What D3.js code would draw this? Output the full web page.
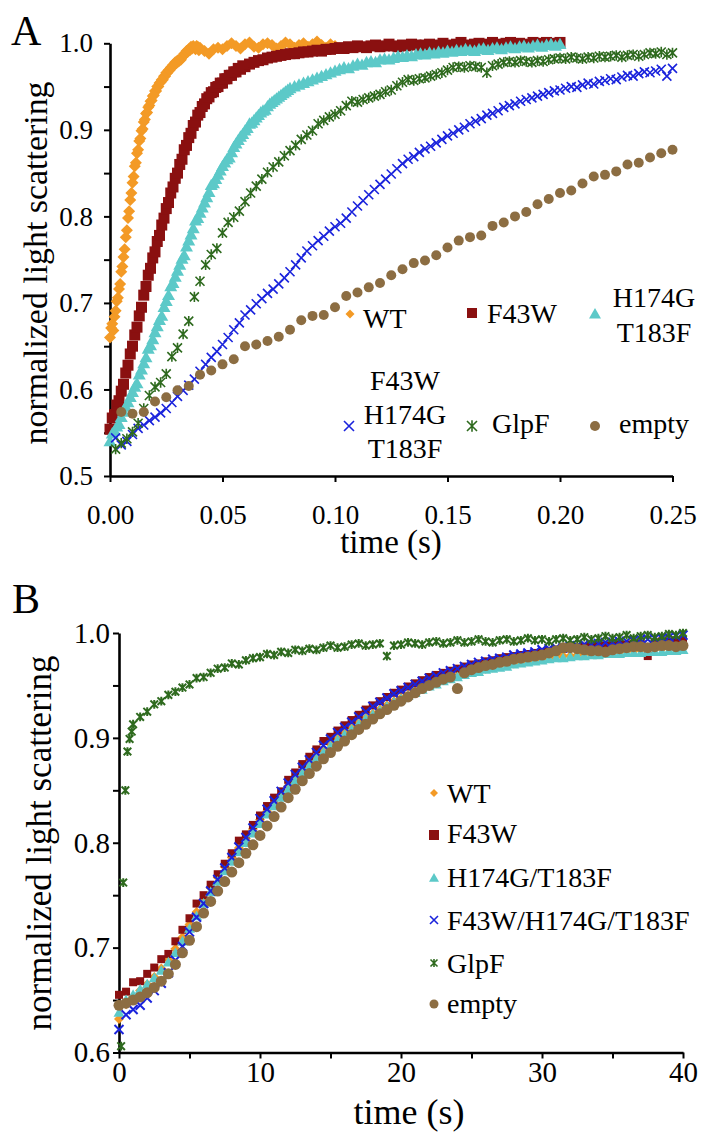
<!DOCTYPE html>
<html lang="en">
<head>
  <meta charset="UTF-8">
  <title>Normalized light scattering</title>
  <script src="https://d3js.org/d3.v7.min.js"></script>
  <style>
    body { margin: 0; background: #fff; }
  </style>
</head>
<body>
  <div id="chart"></div>
  <script>
    // ---------- data ----------
    const seriesNames = ["WT", "F43W", "H174G/T183F", "F43W/H174G/T183F", "GlpF", "empty"];
    const seriesColors = ["#F39A26", "#8A1010", "#5CC9C8", "#1A23DC", "#2E6A1E", "#8C6D42"];
    const seriesSymbols = ["diamond", "square", "triangle", "cross", "star", "circle"];

    // panel A (time in s)
    const wtA1 = [0.660,0.671,0.676,0.668,0.684,0.691,0.702,0.706,0.716,0.722,
      0.736,0.742,0.753,0.762,0.776,0.784,0.798,0.806,0.819,0.827,
      0.839,0.846,0.858,0.862,0.873,0.877,0.887,0.890,0.899,0.901,
      0.909,0.912,0.919,0.920,0.926,0.928,0.933,0.934,0.939,0.940,
      0.945,0.945,0.950,0.950,0.954,0.955,0.958,0.958,0.962,0.962,
      0.966,0.966,0.969,0.969,0.972,0.972,0.975,0.975,0.978,0.977,
      0.980,0.979,0.982,0.981,0.984,0.985,0.988,0.988,0.991,0.990,
      0.993,0.992,0.996,0.994,0.997,0.995,0.993,0.997,0.996,0.992,
      0.995];
    const wtA2 = [0.991,0.988,0.993,0.995,0.993,0.997,1.000,0.997,0.994,0.999,
      1.001,0.996,0.995,0.999,1.000,0.998,0.994,0.997,1.001,0.999,
      0.995,0.998,1.000,0.996,0.999,1.002,0.998,0.995,0.999,0.997];

    const f43wA1 = [0.554,0.567,0.571,0.582,0.587,0.598,0.606,0.619,0.628,0.641,
      0.650,0.663,0.672,0.685,0.695,0.709,0.719,0.732,0.740,0.752,
      0.759,0.771,0.778,0.790,0.798,0.809,0.816,0.827,0.834,0.844,
      0.850,0.860,0.866,0.877,0.882,0.891,0.896,0.905,0.909,0.917,
      0.920,0.927,0.930,0.936,0.938,0.943,0.944,0.949,0.950,0.954,
      0.954,0.959,0.959,0.963,0.963,0.967,0.967,0.971,0.970,0.974,
      0.973];
    const f43wA2 = [0.976,0.978,0.980,0.981,0.983,0.984,0.985,0.986,0.987,0.988,
      0.988,0.989,0.990,0.990,0.991,0.992,0.991,0.993,0.993,0.994,
      0.995,0.994,0.996,0.995,0.997,0.996,0.995,0.997,0.998,0.996,
      0.997,0.999,0.997,0.996,0.998,0.997,0.999,0.998,0.996,0.998,
      0.999,0.997,0.998,1.000,0.998,0.997,0.999,1.001,0.998,0.997,
      0.999,1.000,0.998,0.999,1.001,0.999,0.998,1.000,1.001,0.999,
      1.000,0.998,0.999,1.001,1.000,0.999,1.001,1.000,0.999,1.001];

    const dblA1 = [0.540,0.549,0.552,0.557,0.560,0.568,0.574,0.580,0.585,0.591,
      0.597,0.603,0.607,0.617,0.623,0.630,0.637,0.647,0.651,0.658,
      0.666,0.673,0.680,0.685,0.695,0.702,0.709,0.719,0.723,0.730,
      0.737,0.744,0.751,0.755,0.765,0.772,0.779,0.786,0.795,0.798,
      0.804,0.810,0.816,0.822,0.828,0.836,0.838,0.843,0.848,0.853,
      0.858,0.862,0.866,0.868,0.874,0.880,0.884,0.888,0.892,0.895,
      0.899,0.902,0.907,0.908,0.911,0.914,0.917,0.920,0.922,0.923,
      0.927,0.930,0.932,0.934,0.936,0.938,0.940,0.942,0.944,0.946,
      0.948];
    const dblA2 = [0.950,0.952,0.954,0.956,0.958,0.960,0.962,0.964,0.966,0.968,
      0.970,0.972,0.971,0.974,0.976,0.975,0.978,0.979,0.978,0.981,
      0.982,0.981,0.983,0.985,0.984,0.986,0.985,0.987,0.988,0.987,
      0.989,0.988,0.990,0.989,0.991,0.990,0.992,0.991,0.993,0.992,
      0.991,0.993,0.994,0.992,0.994,0.995,0.993,0.995,0.996,0.994,
      0.996,0.997,0.995,0.997,0.998,0.996,0.998,0.999,0.997,0.999];

    const tripleA = [0.544,0.536,0.540,0.548,0.555,0.559,0.564,0.568,0.573,0.578,
      0.585,0.592,0.599,0.605,0.612,0.621,0.629,0.637,0.644,0.652,
      0.660,0.669,0.677,0.686,0.692,0.699,0.705,0.711,0.716,0.722,
      0.729,0.736,0.744,0.752,0.760,0.766,0.772,0.777,0.783,0.788,
      0.792,0.798,0.805,0.812,0.818,0.825,0.831,0.837,0.843,0.849,
      0.855,0.861,0.866,0.869,0.874,0.878,0.881,0.885,0.889,0.893,
      0.896,0.900,0.903,0.907,0.910,0.913,0.917,0.919,0.922,0.926,
      0.928,0.930,0.933,0.935,0.937,0.939,0.941,0.943,0.945,0.946,
      0.948,0.950,0.949,0.952,0.954,0.953,0.956,0.957,0.959,0.958,
      0.961,0.963,0.962,0.965,0.967,0.966,0.968,0.970,0.962,0.971];

    const glpfA = [0.531,0.538,0.543,0.551,0.561,0.578,0.593,0.603,0.608,0.618,
      0.638,0.648,0.664,0.679,0.707,0.725,0.744,0.756,0.763,0.781,
      0.793,0.799,0.806,0.817,0.827,0.835,0.843,0.851,0.857,0.863,
      0.870,0.876,0.882,0.889,0.894,0.899,0.907,0.911,0.915,0.918,
      0.922,0.928,0.933,0.932,0.935,0.937,0.939,0.941,0.944,0.946,
      0.951,0.955,0.958,0.957,0.959,0.960,0.962,0.964,0.966,0.969,
      0.972,0.973,0.972,0.974,0.973,0.972,0.966,0.974,0.976,0.978,
      0.979,0.978,0.980,0.979,0.978,0.980,0.979,0.981,0.982,0.983,
      0.982,0.984,0.983,0.982,0.984,0.983,0.985,0.984,0.985,0.986,
      0.984,0.986,0.987,0.985,0.987,0.989,0.988,0.990,0.987,0.989];

    const emptyA = [0.574,0.572,0.574,0.586,0.591,0.599,0.604,0.617,0.622,0.629,
      0.635,0.650,0.652,0.656,0.661,0.669,0.680,0.685,0.686,0.695,
      0.708,0.712,0.718,0.723,0.732,0.739,0.746,0.749,0.755,0.764,
      0.772,0.776,0.778,0.789,0.793,0.800,0.805,0.814,0.820,0.827,
      0.830,0.838,0.846,0.848,0.852,0.860,0.862,0.868,0.873,0.877];

    // panel B (time in s, one reading every 0.5 s)
    const wtB = [0.632,0.646,0.653,0.659,0.665,0.672,0.680,0.689,0.699,0.710,
      0.722,0.734,0.746,0.757,0.767,0.777,0.786,0.795,0.804,0.813,
      0.822,0.830,0.838,0.846,0.854,0.861,0.868,0.875,0.882,0.888,
      0.894,0.900,0.905,0.910,0.915,0.919,0.923,0.927,0.931,0.935,
      0.938,0.941,0.944,0.947,0.950,0.952,0.955,0.957,0.959,0.961,
      0.963,0.964,0.966,0.967,0.969,0.970,0.971,0.972,0.973,0.974,
      0.975,0.976,0.977,0.978,0.978,0.979,0.980,0.980,0.981,0.981,
      0.982,0.982,0.983,0.983,0.984,0.984,0.985,0.985,0.986,0.986,
      0.987];
    const f43wB = [0.655,0.658,0.667,0.668,0.675,0.681,0.689,0.694,0.706,0.717,
      0.728,0.742,0.750,0.760,0.770,0.780,0.790,0.802,0.808,0.817,
      0.826,0.835,0.843,0.849,0.860,0.867,0.875,0.882,0.889,0.897,
      0.901,0.907,0.912,0.917,0.922,0.927,0.931,0.935,0.939,0.943,
      0.946,0.949,0.952,0.955,0.958,0.960,0.962,0.964,0.966,0.968,
      0.970,0.971,0.973,0.974,0.976,0.977,0.978,0.979,0.980,0.981,
      0.982,0.983,0.984,0.985,0.986,0.986,0.987,0.987,0.988,0.988,
      0.988,0.989,0.989,0.990,0.990,0.978,0.991,0.992,0.992,0.993,
      0.993];
    const dblB = [0.638,0.650,0.655,0.660,0.665,0.671,0.678,0.686,0.695,0.706,
      0.718,0.730,0.742,0.753,0.763,0.773,0.782,0.791,0.800,0.809,
      0.818,0.827,0.835,0.843,0.851,0.859,0.866,0.873,0.880,0.886,
      0.892,0.898,0.903,0.908,0.913,0.918,0.922,0.926,0.930,0.934,
      0.937,0.940,0.943,0.946,0.949,0.951,0.954,0.956,0.958,0.960,
      0.962,0.963,0.965,0.966,0.967,0.968,0.970,0.971,0.972,0.973,
      0.974,0.975,0.976,0.976,0.977,0.978,0.978,0.979,0.979,0.980,
      0.980,0.980,0.981,0.981,0.981,0.982,0.982,0.982,0.983,0.983,
      0.984];
    const tripleB = [0.622,0.636,0.641,0.645,0.652,0.659,0.666,0.676,0.688,0.701,
      0.715,0.729,0.742,0.754,0.765,0.776,0.786,0.796,0.805,0.814,
      0.823,0.832,0.840,0.849,0.857,0.865,0.872,0.879,0.886,0.893,
      0.899,0.905,0.910,0.915,0.920,0.925,0.930,0.934,0.938,0.942,
      0.945,0.948,0.951,0.954,0.957,0.959,0.962,0.964,0.966,0.968,
      0.970,0.972,0.973,0.975,0.976,0.977,0.979,0.980,0.981,0.982,
      0.984,0.985,0.986,0.986,0.987,0.988,0.989,0.989,0.990,0.991,
      0.991,0.992,0.992,0.993,0.994,0.994,0.995,0.995,0.996,0.997,
      0.998];
    const glpfB1 = [0.606,0.762,0.850,0.887,0.899,0.906];  // first fast readings
    const glpfB2 = [0.913,0.920,0.925,0.932,0.935,0.941,0.944,0.948,0.951,0.957,
      0.958,0.962,0.966,0.967,0.971,0.970,0.974,0.976,0.977,0.980,
      0.979,0.982,0.981,0.984,0.983,0.985,0.984,0.986,0.988,0.986,
      0.987,0.989,0.990,0.988,0.989,0.990,0.978,0.988,0.989,0.991,
      0.990,0.989,0.991,0.992,0.990,0.991,0.993,0.991,0.992,0.994,
      0.992,0.991,0.993,0.994,0.992,0.993,0.995,0.993,0.994,0.992,
      0.994,0.995,0.993,0.994,0.996,0.994,0.995,0.997,0.995,0.996,
      0.998,0.995,0.997,0.998,0.996,0.997,0.999,0.998,1.000];
    const emptyB = [0.645,0.647,0.650,0.653,0.657,0.662,0.668,0.675,0.684,0.695,
      0.707,0.720,0.733,0.744,0.754,0.763,0.772,0.781,0.790,0.798,
      0.807,0.816,0.825,0.834,0.843,0.851,0.859,0.866,0.873,0.880,
      0.886,0.892,0.897,0.903,0.908,0.913,0.918,0.923,0.927,0.931,
      0.935,0.939,0.943,0.947,0.950,0.953,0.956,0.958,0.947,0.962,
      0.965,0.967,0.969,0.970,0.972,0.973,0.975,0.976,0.977,0.978,
      0.979,0.981,0.983,0.986,0.986,0.985,0.984,0.983,0.983,0.982,
      0.984,0.985,0.986,0.987,0.987,0.986,0.987,0.988,0.988,0.987,
      0.988];

    // sampling: start time and step for each block of readings
    const panelAData = [
      [{ t0: 0, dt: 0.0005, y: wtA1 }, { t0: 0.042, dt: 0.002, y: wtA2 }],
      [{ t0: 0, dt: 0.001, y: f43wA1 }, { t0: 0.062, dt: 0.002, y: f43wA2 }],
      [{ t0: 0, dt: 0.001, y: dblA1 }, { t0: 0.082, dt: 0.002, y: dblA2 }],
      [{ t0: 0.0025, dt: 0.0025, y: tripleA }],
      [{ t0: 0.0025, dt: 0.0025, y: glpfA }],
      [{ t0: 0.005, dt: 0.005, y: emptyA }]
    ];
    const panelBData = [
      [{ t0: 0, dt: 0.5, y: wtB }],
      [{ t0: 0, dt: 0.5, y: f43wB }],
      [{ t0: 0, dt: 0.5, y: dblB }],
      [{ t0: 0, dt: 0.5, y: tripleB }],
      [{ t0: 0.15, dt: 0.15, y: glpfB1 }, { t0: 1, dt: 0.5, y: glpfB2 }],
      [{ t0: 0, dt: 0.5, y: emptyB }]
    ];

    const xTicksA = [0, 0.05, 0.10, 0.15, 0.20, 0.25];
    const xTickLabelsA = ["0.00", "0.05", "0.10", "0.15", "0.20", "0.25"];
    const yTicksA = [0.5, 0.55, 0.6, 0.65, 0.7, 0.75, 0.8, 0.85, 0.9, 0.95, 1.0];
    const yTickLabelsA = ["0.5", "", "0.6", "", "0.7", "", "0.8", "", "0.9", "", "1.0"];
    const xTicksB = [0, 5, 10, 15, 20, 25, 30, 35, 40];
    const xTickLabelsB = ["0", "", "10", "", "20", "", "30", "", "40"];
    const yTicksB = [0.6, 0.65, 0.7, 0.75, 0.8, 0.85, 0.9, 0.95, 1.0];
    const yTickLabelsB = ["0.6", "", "0.7", "", "0.8", "", "0.9", "", "1.0"];

    // ---------- font: first serif face that is really installed ----------
    function hasFont(name) {
      const ctx = document.createElement("canvas").getContext("2d");
      const probe = "mmmmmwwwlli0.05WTQ";
      return ["monospace", "sans-serif", "serif"].some(base => {
        ctx.font = `40px ${base}`;
        const w0 = ctx.measureText(probe).width;
        ctx.font = `40px "${name}", ${base}`;
        return ctx.measureText(probe).width !== w0;
      });
    }
    const fontChoices = ["Liberation Serif", "Times New Roman", "Tinos", "Nimbus Roman", "FreeSerif", "DejaVu Serif", "Noto Serif"];
    const serifFont = fontChoices.find(hasFont);
    const FONT = serifFont ? `"${serifFont}", serif` : "serif";

    // ---------- drawing ----------
    const svg = d3.select("#chart").append("svg")
      .attr("width", 704)
      .attr("height", 1133)
      .attr("font-family", FONT);

    const symbolTypes = {
      diamond: { draw(c, r) { c.moveTo(0, -r); c.lineTo(r, 0); c.lineTo(0, r); c.lineTo(-r, 0); c.closePath(); } },
      square: { draw(c, r) { c.rect(-r, -r, 2 * r, 2 * r); } },
      triangle: { draw(c, r) { c.moveTo(0, -r); c.lineTo(r, r * 0.75); c.lineTo(-r, r * 0.75); c.closePath(); } },
      cross: { draw(c, r) { c.moveTo(-r, -r); c.lineTo(r, r); c.moveTo(r, -r); c.lineTo(-r, r); } },
      star: { draw(c, r) { c.moveTo(-r, -r); c.lineTo(r, r); c.moveTo(r, -r); c.lineTo(-r, r); c.moveTo(0, -r * 1.15); c.lineTo(0, r * 1.15); } },
      circle: { draw(c, r) { c.moveTo(r, 0); c.arc(0, 0, r, 0, 2 * Math.PI); } }
    };
    const isStroked = s => s === "cross" || s === "star";

    function marker(sel, i, r, sw) {
      const s = seriesSymbols[i];
      sel.attr("d", d3.symbol(symbolTypes[s], r))
        .attr("fill", isStroked(s) ? "none" : seriesColors[i])
        .attr("stroke", isStroked(s) ? seriesColors[i] : "none")
        .attr("stroke-width", isStroked(s) ? (sw || 1.6) : 0);
    }

    function addText(g, x, y, str, size, anchor) {
      return g.append("text")
        .attr("x", x).attr("y", y)
        .attr("font-family", FONT)
        .attr("font-size", size)
        .attr("fill", "#000")
        .attr("text-anchor", anchor || "start")
        .text(str);
    }

    function drawPanel(p) {
      const g = svg.append("g");
      const x = d3.scaleLinear().domain(p.xDomain).range(p.xRange);
      const y = d3.scaleLinear().domain(p.yDomain).range(p.yRange);

      // axes
      const xAxis = g.append("g")
        .attr("transform", `translate(0,${p.yRange[0]})`)
        .call(d3.axisBottom(x).tickValues(p.xTicks).tickFormat((d, i) => p.xLabels[i])
          .tickSize(6).tickSizeOuter(0));
      xAxis.selectAll("text").attr("y", p.xLabelY).attr("dy", null);

      const yAxis = g.append("g")
        .attr("transform", `translate(${p.xRange[0]},0)`)
        .call(d3.axisLeft(y).tickValues(p.yTicks).tickFormat((d, i) => p.yLabels[i])
          .tickSize(6).tickPadding(p.yPad).tickSizeOuter(0));

      [xAxis, yAxis].forEach(a => {
        a.attr("font-family", FONT).attr("font-size", p.tickFont);
        a.selectAll("text").attr("fill", "#000");
        a.select(".domain").attr("stroke", "#000").attr("stroke-width", 2.6);
        a.selectAll(".tick line").attr("stroke", "#000").attr("stroke-width", 2);
      });

      // series, drawn in legend order so later ones sit on top
      p.data.forEach((segs, i) => {
        const pts = segs.flatMap(seg => seg.y.map((v, k) => ({ t: seg.t0 + k * seg.dt, v })));
        g.append("g").selectAll("path")
          .data(pts)
          .join("path")
          .attr("transform", d => `translate(${x(d.t)},${y(d.v)})`)
          .call(marker, i, p.sizes[i], p.strokeW);
      });

      // titles
      addText(g, p.xTitle[0], p.xTitle[1], "time (s)", p.xTitleFont, "middle");
      addText(g, 0, 0, "normalized light scattering", p.yTitleFont, "middle")
        .attr("transform", `translate(${p.yTitle[0]},${p.yTitle[1]}) rotate(-90)`)
        .attr("textLength", p.yTitleLength)
        .attr("lengthAdjust", "spacingAndGlyphs");
      addText(g, p.letter[0], p.letter[1], p.name, 42);

      // legend
      p.legend.forEach(e => {
        g.append("path")
          .attr("transform", `translate(${e.mx},${e.my})`)
          .call(marker, e.i, p.legendSizes[e.i]);
        e.lines.forEach((line, k) => addText(g, e.tx, e.ty[k], line, p.legendFont, e.anchor));
      });
    }

    drawPanel({
      name: "A",
      letter: [11, 45],
      data: panelAData,
      xDomain: [0, 0.25], xRange: [110, 672.5],
      yDomain: [0.5, 1.0], yRange: [476, 43.3],
      xTicks: xTicksA, xLabels: xTickLabelsA,
      yTicks: yTicksA, yLabels: yTickLabelsA,
      tickFont: 27, xLabelY: 48, yPad: 11,
      xTitle: [391, 553], xTitleFont: 33,
      yTitle: [47, 263], yTitleFont: 34, yTitleLength: 363,
      sizes: [6, 5.5, 6.5, 4.5, 4.5, 5],
      strokeW: 1.6,
      legendSizes: [4.5, 5, 6, 5, 5, 5],
      legendFont: 28,
      legend: [
        { i: 0, mx: 350, my: 314, tx: 363, ty: [328], anchor: "start", lines: ["WT"] },
        { i: 1, mx: 472, my: 313, tx: 487, ty: [323], anchor: "start", lines: ["F43W"] },
        { i: 2, mx: 595, my: 314, tx: 654, ty: [307, 342], anchor: "middle", lines: ["H174G", "T183F"] },
        { i: 3, mx: 349, my: 426, tx: 405, ty: [390, 424, 458], anchor: "middle", lines: ["F43W", "H174G", "T183F"] },
        { i: 4, mx: 472, my: 426, tx: 492, ty: [433], anchor: "start", lines: ["GlpF"] },
        { i: 5, mx: 595, my: 426, tx: 619, ty: [433], anchor: "start", lines: ["empty"] }
      ]
    });

    drawPanel({
      name: "B",
      letter: [12, 613],
      data: panelBData,
      xDomain: [0, 40], xRange: [119, 683],
      yDomain: [0.6, 1.0], yRange: [1052.5, 633],
      xTicks: xTicksB, xLabels: xTickLabelsB,
      yTicks: yTicksB, yLabels: yTickLabelsB,
      tickFont: 29, xLabelY: 29, yPad: 3,
      xTitle: [409, 1124], xTitleFont: 36,
      yTitle: [51, 843], yTitleFont: 35, yTitleLength: 375,
      sizes: [5, 4, 5.5, 4.5, 3.8, 5.5],
      strokeW: 2,
      legendSizes: [4, 5, 5, 4, 3.5, 4.5],
      legendFont: 28,
      legend: seriesNames.map((name, i) => ({
        i, mx: 434, my: [793, 835, 878, 920, 963, 1004][i],
        tx: 447, ty: [[803], [843], [887], [930], [973], [1013]][i],
        anchor: "start", lines: [name]
      }))
    });
  </script>
</body>
</html>
